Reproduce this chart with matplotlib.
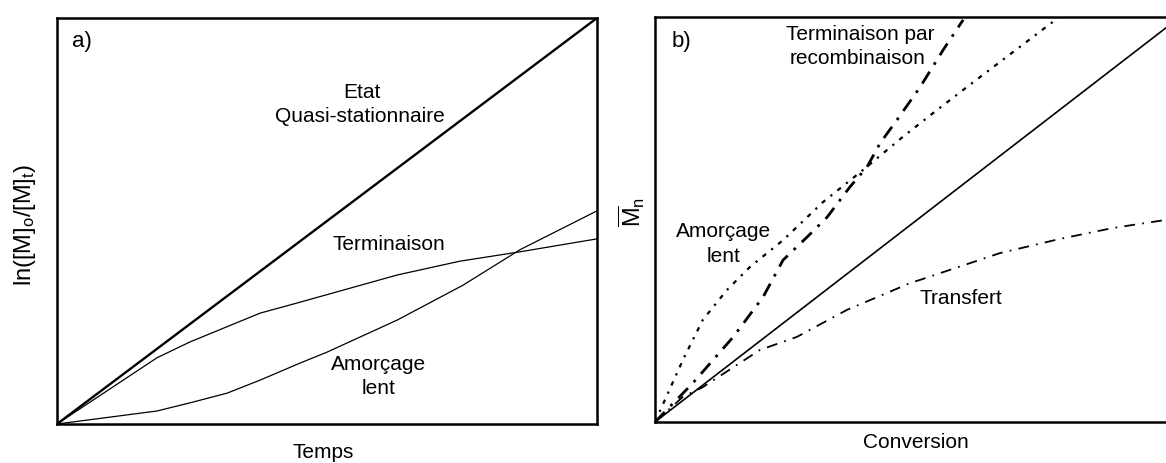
import matplotlib
matplotlib.use("Agg")
import matplotlib.pyplot as plt

plt.rcParams['font.family'] = ['Liberation Sans', 'DejaVu Sans']
plt.rcParams['mathtext.fontset'] = 'custom'
plt.rcParams['mathtext.rm'] = 'Liberation Sans'
plt.rcParams['mathtext.it'] = 'Liberation Sans'

# ---- Panel a data (normalised time / ln ratio) ----
etat_x = [0.0, 1.0]
etat_y = [0.0, 1.0]

term_x = [0.0, 0.185, 0.246, 0.376, 0.45, 0.63, 0.746, 0.857, 1.0]
term_y = [0.0, 0.163, 0.202, 0.273, 0.30, 0.367, 0.401, 0.424, 0.456]

amor_x = [0.0, 0.185, 0.246, 0.315, 0.376, 0.45, 0.5, 0.63, 0.752, 0.857, 1.0]
amor_y = [0.0, 0.032, 0.052, 0.076, 0.108, 0.150, 0.177, 0.256, 0.342, 0.429, 0.525]

# ---- Panel b data (conversion / Mn) ----
ideal_x = [0.0, 1.0]
ideal_y = [0.0, 1.0]

lent_x = [0.0, 0.053, 0.091, 0.137, 0.181, 0.244, 0.32, 0.396, 0.472, 0.53, 0.587, 0.657, 0.768]
lent_y = [0.0, 0.153, 0.252, 0.326, 0.383, 0.449, 0.543, 0.622, 0.704, 0.763, 0.820, 0.889, 0.998]

recomb_x = [0.0, 0.072, 0.149, 0.206, 0.244, 0.29, 0.328, 0.371, 0.404, 0.429, 0.461, 0.505, 0.549, 0.587]
recomb_y = [0.0, 0.096, 0.210, 0.309, 0.400, 0.457, 0.506, 0.580, 0.630, 0.689, 0.746, 0.827, 0.919, 0.993]

transf_x = [0.0, 0.053, 0.091, 0.162, 0.2, 0.27, 0.366, 0.486, 0.505, 0.657, 0.771, 0.872, 0.973, 1.0]
transf_y = [0.0, 0.062, 0.086, 0.146, 0.178, 0.21, 0.277, 0.343, 0.351, 0.417, 0.452, 0.479, 0.499, 0.503]

W, H = 1166, 463
fig = plt.figure(figsize=(W / 100, H / 100), dpi=100)

FS = 15

def px_axes(x0, y0, x1, y1):
    return fig.add_axes([x0 / W, 1 - y1 / H, (x1 - x0) / W, (y1 - y0) / H])

# Panel a
ax1 = px_axes(57, 18, 597, 424)
ax1.plot(etat_x, etat_y, color='black', lw=1.7)
ax1.plot(term_x, term_y, color='black', lw=0.9)
ax1.plot(amor_x, amor_y, color='black', lw=0.9)
ax1.set_xlim(0, 1)
ax1.set_ylim(0, 1)
ax1.set_xticks([])
ax1.set_yticks([])
for s in ax1.spines.values():
    s.set_linewidth(1.8)

# panel a texts (pixel positions)
fig.text(82 / W, 1 - 41 / H, 'a)', ha='center', va='center', fontsize=16)
fig.text(362 / W, 1 - 92 / H, 'Etat', ha='center', va='center', fontsize=FS)
fig.text(360 / W, 1 - 117 / H, 'Quasi-stationnaire', ha='center', va='center', fontsize=FS)
fig.text(389 / W, 1 - 245 / H, 'Terminaison', ha='center', va='center', fontsize=FS)
fig.text(379 / W, 1 - 365 / H, 'Amorçage', ha='center', va='center', fontsize=FS)
fig.text(379 / W, 1 - 389 / H, 'lent', ha='center', va='center', fontsize=FS)
fig.text(323 / W, 1 - 452 / H, 'Temps', ha='center', va='center', fontsize=FS)
fig.text(25 / W, 1 - 225 / H, r'ln([M]$_\mathregular{o}$/[M]$_\mathregular{t}$)',
         ha='center', va='center', rotation=90, fontsize=17)

# Panel b
ax2 = px_axes(655, 17, 1180, 422)
ax2.plot(ideal_x, ideal_y, color='black', lw=1.2)
ax2.plot(lent_x, lent_y, color='black', lw=1.6, linestyle=(0, (2.0, 3.0, 1.0, 3.0)))
ax2.plot(recomb_x, recomb_y, color='black', lw=2.0, linestyle=(0, (5.0, 3.0, 1.0, 3.0)))
ax2.plot(transf_x, transf_y, color='black', lw=1.3, linestyle=(0, (6.0, 4.0, 1.0, 4.0)))
ax2.set_xlim(0, 1)
ax2.set_ylim(0, 1)
ax2.set_xticks([])
ax2.set_yticks([])
for s in ax2.spines.values():
    s.set_linewidth(1.8)

fig.text(681 / W, 1 - 41 / H, 'b)', ha='center', va='center', fontsize=16)
fig.text(860 / W, 1 - 34 / H, 'Terminaison par', ha='center', va='center', fontsize=FS)
fig.text(858 / W, 1 - 59 / H, 'recombinaison', ha='center', va='center', fontsize=FS)
fig.text(724 / W, 1 - 232 / H, 'Amorçage', ha='center', va='center', fontsize=FS)
fig.text(724 / W, 1 - 256 / H, 'lent', ha='center', va='center', fontsize=FS)
fig.text(961 / W, 1 - 298 / H, 'Transfert', ha='center', va='center', fontsize=FS)
fig.text(916 / W, 1 - 443 / H, 'Conversion', ha='center', va='center', fontsize=FS)
fig.text(632 / W, 1 - 212 / H, r'$\overline{\mathregular{M}}_\mathregular{n}$',
         ha='center', va='center', rotation=90, fontsize=17)

fig.savefig('out.png', dpi=100)
